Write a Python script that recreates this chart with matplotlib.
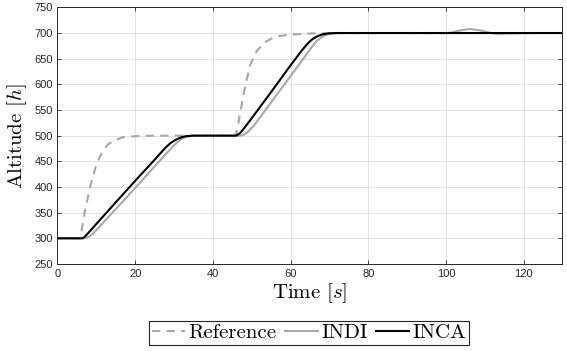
import numpy as np
import matplotlib.pyplot as plt

# values
t_ref = [0, 5.6, 6.2, 7.1, 8.4, 10.1, 11.0, 11.8, 13.0, 14.4, 16.9, 20, 25, 45.8,
         46.5, 47.0, 48.3, 49.6, 51.3, 53.4, 55, 57, 60, 65, 70, 130]
h_ref = [300, 300, 315, 355, 400, 446, 460, 472, 483, 490, 497, 499, 500, 500,
         520, 544, 595, 638, 665, 682, 689, 694, 697, 699, 700, 700]

t_indi = [0, 6.5, 7.5, 8.5, 9.5, 10.5, 15, 20, 25, 28, 29, 30, 31, 32, 33, 34, 36,
          47, 48, 49, 50, 51, 55, 60, 63, 65, 66, 67, 68, 69, 70, 72,
          100, 101.5, 103, 106, 109, 111, 113, 116, 120, 130]
h_indi = [300, 300, 301, 305, 312, 320, 357, 398, 440, 465, 473, 481, 488, 494, 497, 499, 500,
          500, 502, 507, 515, 524, 565, 616, 647, 668, 678, 686, 692, 696, 698, 700,
          700, 701, 704, 708, 705, 701, 698.5, 699, 700, 700]

t_inca = [0, 6.5, 7, 8, 10, 15, 20, 25, 27, 28, 29, 30, 31, 32, 33, 35,
          46, 47, 48, 50, 55, 60, 63, 64, 65, 66, 67, 68, 70, 72, 130]
h_inca = [300, 300, 303, 311, 328, 370, 412, 453, 470, 478, 485, 490, 494, 497, 499, 500,
          500, 505, 514, 534, 585, 637, 667, 676, 684, 690, 694, 697, 699.5, 700, 700]

plt.rcParams['mathtext.fontset'] = 'cm'
plt.rcParams['axes.unicode_minus'] = False

fig = plt.figure(figsize=(5.67, 3.51), dpi=100)
ax = fig.add_axes([0.1014, 0.248, 0.8906, 0.731])

ax.plot(t_ref, h_ref, '--', color='#a8a8a8', lw=1.5, dashes=(4, 3), label='Reference')
ax.plot(t_indi, h_indi, '-', color='#a8a8a8', lw=1.5, label='INDI')
ax.plot(t_inca, h_inca, '-', color='black', lw=1.5, label='INCA')

ax.set_xlim(0, 130)
ax.set_ylim(250, 750)
ax.set_xticks(np.arange(0, 121, 20))
ax.set_yticks(np.arange(250, 751, 50))
ax.grid(True, color='#dedede', lw=0.6)
ax.set_axisbelow(True)
ax.tick_params(direction='in', top=True, right=True, length=3, width=0.6,
               labelsize=8, colors='#262626')
for lab in ax.get_xticklabels() + ax.get_yticklabels():
    lab.set_family('Liberation Sans')
for s in ax.spines.values():
    s.set_color('#262626')
    s.set_linewidth(0.7)

ax.set_xlabel('Time [$s$]', family='cmr10', fontsize=15, labelpad=2)
ax.set_ylabel('Altitude [$h$]', family='cmr10', fontsize=15, labelpad=4)

leg = fig.legend(loc='center', bbox_to_anchor=(309 / 567, 1 - 333 / 351), ncol=3,
                 prop={'family': 'cmr10', 'size': 15}, fancybox=False,
                 edgecolor='#262626', framealpha=1, handlelength=1.6,
                 handletextpad=0.15, columnspacing=0.4, borderpad=0.15,
                 borderaxespad=0)
leg.get_frame().set_linewidth(0.8)

fig.savefig('out.png', dpi=100)
